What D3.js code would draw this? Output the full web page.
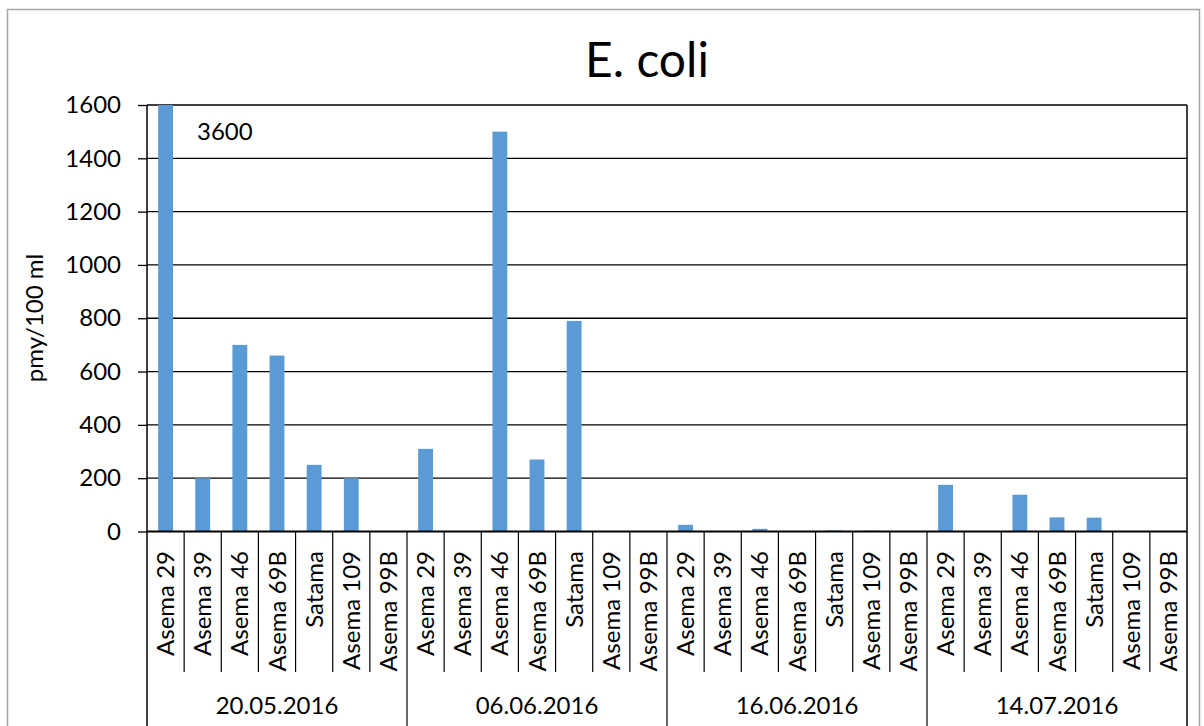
<!DOCTYPE html>
<html><head><meta charset="utf-8">
<script src="https://cdn.jsdelivr.net/npm/d3@7"></script>
<style>body{margin:0;background:#fff}svg{display:block}text{font-family:Lato,"Open Sans",sans-serif;fill:#000}</style>
</head><body>
<script>
const dates = ["20.05.2016","06.06.2016","16.06.2016","14.07.2016"];
const stations = ["Asema 29","Asema 39","Asema 46","Asema 69B","Satama","Asema 109","Asema 99B"];
const values_20_05 = [3600,200,700,660,250,200,0];
const values_06_06 = [310,0,1500,270,790,0,0];
const values_16_06 = [25,0,10,0,4,3,0];
const values_14_07 = [175,0,138,53,52,0,0];
const yTicks = [0,200,400,600,800,1000,1200,1400,1600];
const title = "E. coli";
const yLabel = "pmy/100 ml";
const annotation = "3600";

const series = [values_20_05, values_06_06, values_16_06, values_14_07];
const data = [];
dates.forEach((d,gi)=>stations.forEach((s,si)=>data.push({key:gi+"|"+si, date:d, station:s, value:series[gi][si]})));

const W=1204,H=726;
const svg=d3.select("body").append("svg").attr("width",W).attr("height",H);
svg.append("rect").attr("x",7.5).attr("y",9.5).attr("width",1192).attr("height",760).attr("fill","none").attr("stroke","#a6a6a6").attr("stroke-width",1.5);

const L=147,R=1187,T=105,B=531.5;
const x=d3.scaleBand().domain(data.map(d=>d.key)).range([L,R]).paddingInner(0.6).paddingOuter(0.3);
const y=d3.scaleLinear().domain([0,1600]).range([B,T]).clamp(true);

svg.append("text").attr("x",647).attr("y",77).attr("text-anchor","middle").style("font-size","48px").text(title);

// gridlines
svg.append("g").selectAll("line").data(yTicks.slice(1)).join("line")
 .attr("x1",L).attr("x2",R).attr("y1",d=>y(d)).attr("y2",d=>y(d)).attr("stroke","#000").attr("stroke-width",1.3);

// bars
svg.append("g").selectAll("rect").data(data).join("rect")
 .attr("x",d=>x(d.key)).attr("width",x.bandwidth())
 .attr("y",d=>y(d.value)).attr("height",d=>B-y(d.value)).attr("fill","#5b9bd5");

// y axis
const ya=svg.append("g").attr("transform",`translate(${L},0)`).call(d3.axisLeft(y).tickValues(yTicks).tickFormat(d3.format("d")).tickSize(9).tickPadding(17));
ya.select(".domain").remove();
ya.selectAll(".tick line").attr("stroke","#000").attr("stroke-width",1.3);
ya.selectAll(".tick text").style("font-size","24px").attr("font-family","Lato");
svg.append("line").attr("x1",L).attr("x2",L).attr("y1",T).attr("y2",H).attr("stroke","#000").attr("stroke-width",1.5);
svg.append("line").attr("x1",R).attr("x2",R).attr("y1",T).attr("y2",H).attr("stroke","#000").attr("stroke-width",1.5);
svg.append("line").attr("x1",L).attr("x2",R).attr("y1",B).attr("y2",B).attr("stroke","#000").attr("stroke-width",2);

svg.append("text").attr("transform",`translate(43,318) rotate(-90)`).attr("text-anchor","middle").style("font-size","24px").text(yLabel);

// category separators
const step=x.step();
const bounds=d3.range(1,data.length);
svg.append("g").selectAll("line").data(bounds.filter(i=>i%stations.length!==0)).join("line")
 .attr("x1",i=>L+i*step).attr("x2",i=>L+i*step).attr("y1",B).attr("y2",672).attr("stroke","#000").attr("stroke-width",1.2);
svg.append("g").selectAll("line").data(bounds.filter(i=>i%stations.length===0)).join("line")
 .attr("x1",i=>L+i*step).attr("x2",i=>L+i*step).attr("y1",B).attr("y2",H).attr("stroke","#000").attr("stroke-width",1.2);

// category labels
svg.append("g").selectAll("text").data(data).join("text")
 .attr("transform",d=>`translate(${x(d.key)+x.bandwidth()/2+8.5},551) rotate(-90)`)
 .attr("text-anchor","end").style("font-size","24px").text(d=>d.station);

// group labels
svg.append("g").selectAll("text").data(dates).join("text")
 .attr("x",(d,i)=>L+(i+0.5)*stations.length*step).attr("y",714).attr("text-anchor","middle").style("font-size","24px").text(d=>d);

svg.append("text").attr("x",197).attr("y",140).style("font-size","24px").text(annotation);
</script>
</body></html>
